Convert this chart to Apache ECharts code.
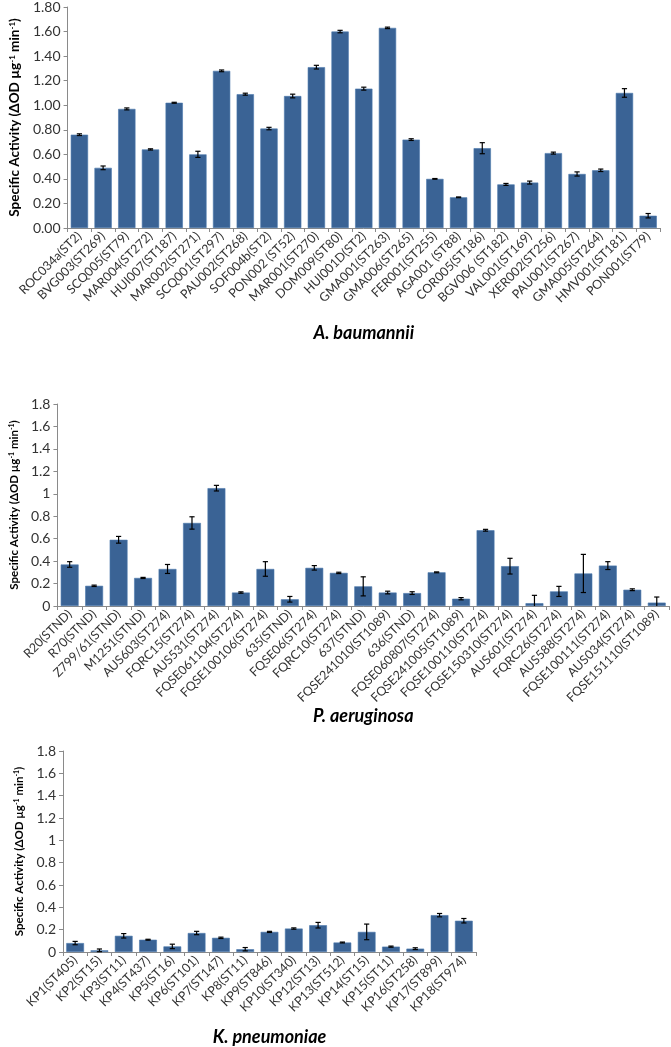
<!DOCTYPE html>
<html>
<head>
<meta charset="utf-8">
<script src="https://cdn.jsdelivr.net/npm/echarts@6/dist/echarts.min.js"></script>
<style>
html,body{margin:0;padding:0;background:#fff;}
#chart{width:671px;height:1047px;}
</style>
</head>
<body>
<div id="chart"></div>
<script>
// ---- Data ----
const abCats = ['ROC034a(ST2)','BVG003(ST269)','SCQ005(ST79)','MAR004(ST272)','HUI007(ST187)','MAR002(ST271)','SCQ001(ST297)','PAU002(ST268)','SOF004b(ST2)','PON002 (ST52)','MAR001(ST270)','DOM009(ST80)','HUI001D(ST2)','GMA001(ST263)','GMA006(ST265)','FER001(ST255)','AGA001 (ST88)','COR005(ST186)','BGV006 (ST182)','VAL001(ST169)','XER002(ST256)','PAU001(ST267)','GMA005(ST264)','HMV001(ST181)','PON001(ST79)'];
const abVals = [0.76,0.49,0.97,0.64,1.02,0.60,1.28,1.09,0.81,1.075,1.31,1.60,1.135,1.63,0.72,0.40,0.25,0.65,0.355,0.37,0.61,0.44,0.47,1.10,0.10];
const abErr  = [0.007,0.015,0.008,0.005,0.004,0.025,0.007,0.008,0.01,0.015,0.015,0.01,0.012,0.006,0.007,0.003,0.003,0.045,0.008,0.012,0.008,0.017,0.01,0.035,0.018];

const paCats = ['R20(STND)','R70(STND)','Z799/61(STND)','M1251(STND)','AUS603(ST274)','FQRC15(ST274)','AUS531(ST274)','FQSE061104(ST274)','FQSE100106(ST274)','635(STND)','FQSE06(ST274)','FQRC10(ST274)','637(STND)','FQSE241010(ST1089)','636(STND)','FQSE060807(ST274)','FQSE241005(ST1089)','FQSE100110(ST274)','FQSE150310(ST274)','AUS601(ST274)','FQRC26(ST274)','AUS588(ST274)','FQSE100111(ST274)','AUS034(ST274)','FQSE151110(ST1089)'];
const paVals = [0.37,0.18,0.59,0.25,0.33,0.74,1.05,0.12,0.33,0.06,0.34,0.295,0.175,0.12,0.115,0.30,0.065,0.675,0.355,0.025,0.13,0.29,0.36,0.145,0.03];
const paErr  = [0.025,0.006,0.03,0.005,0.04,0.055,0.025,0.006,0.065,0.025,0.02,0.006,0.085,0.012,0.012,0.004,0.01,0.008,0.07,0.07,0.045,0.17,0.035,0.008,0.05];

const kpCats = ['KP1(ST405)','KP2(ST15)','KP3(ST11)','KP4(ST437)','KP5(ST16)','KP6(ST101)','KP7(ST147)','KP8(ST11)','KP9(ST846)','KP10(ST340)','KP12(ST13)','KP13(ST512)','KP14(ST15)','KP15(ST11)','KP16(ST258)','KP17(ST899)','KP18(ST974)'];
const kpVals = [0.08,0.015,0.145,0.11,0.05,0.17,0.127,0.025,0.18,0.21,0.24,0.085,0.18,0.048,0.03,0.33,0.28];
const kpErr  = [0.015,0.012,0.02,0.004,0.02,0.015,0.006,0.015,0.005,0.006,0.025,0.004,0.07,0.005,0.008,0.015,0.02];

const titles = ['A. baumannii','P. aeruginosa','K. pneumoniae'];
const yName = 'Specific Activity (ΔOD µg{sup|-1} min{sup|-1})';

// ---- Styling ----
const FONT = 'Lato, "Open Sans", "DejaVu Sans", sans-serif';
const BAR = '#3a6395';
const AXIS = '#8a8a8a';
const TXT = '#333333';

const grids = [
  {left:52, top:7, width:608, height:221},
  {left:57, top:404, width:612, height:202},
  {left:63, top:751, width:413, height:201}
];
const cats = [abCats, paCats, kpCats];
const vals = [abVals, paVals, kpVals];
const errs = [abErr, paErr, kpErr];
const nameGaps = [96, 101, 76];
const yNameGaps = [30, 35, 33];
const yNameSizes = [13.5, 11.5, 11.5];

function errSeries(k) {
  return {
    type: 'custom',
    xAxisIndex: k, yAxisIndex: k,
    z: 10,
    encode: {x: 0, y: 1},
    data: vals[k].map((v, i) => [i, v, errs[k][i]]),
    renderItem: function (params, api) {
      const i = api.value(0), v = api.value(1), e = api.value(2);
      const hi = api.coord([i, v + e]);
      const lo = api.coord([i, Math.max(0, v - e)]);
      const w = 2.6;
      const st = {stroke: '#000', lineWidth: 1.2};
      const ch = [
        {type: 'line', shape: {x1: hi[0], y1: hi[1], x2: lo[0], y2: lo[1]}, style: st},
        {type: 'line', shape: {x1: hi[0] - w, y1: hi[1], x2: hi[0] + w, y2: hi[1]}, style: st}
      ];
      if (v - e > 0) ch.push({type: 'line', shape: {x1: lo[0] - w, y1: lo[1], x2: lo[0] + w, y2: lo[1]}, style: st});
      return {type: 'group', children: ch};
    }
  };
}

const xAxes = [0,1,2].map(k => ({
  type: 'category', gridIndex: k, data: cats[k],
  axisLine: {lineStyle: {color: AXIS, width: 1}},
  axisTick: {show: true, length: 4, lineStyle: {color: AXIS}},
  axisLabel: {rotate: 45, interval: 0, fontSize: 12.5, color: TXT, fontFamily: FONT, margin: 6},
  name: titles[k], nameLocation: 'middle', nameGap: nameGaps[k],
  nameTextStyle: {fontFamily: FONT, fontSize: 18, fontWeight: 'bold', fontStyle: 'italic', color: '#000'}
}));

const yAxes = [0,1,2].map(k => ({
  type: 'value', gridIndex: k, min: 0, max: 1.8, interval: 0.2,
  splitLine: {show: false},
  axisLine: {show: true, lineStyle: {color: AXIS, width: 1}},
  axisTick: {show: true, length: 4, lineStyle: {color: AXIS}},
  axisLabel: {
    fontSize: 14, color: TXT, fontFamily: FONT, margin: 7,
    formatter: k === 0 ? (v => v.toFixed(2)) : (v => String(Math.round(v * 10) / 10))
  },
  name: yName, nameLocation: 'middle', nameRotate: 90, nameGap: yNameGaps[k],
  nameTextStyle: {
    fontFamily: FONT, fontSize: yNameSizes[k], fontWeight: 'bold', color: '#000',
    rich: {sup: {fontFamily: FONT, fontSize: Math.round(yNameSizes[k] * 0.62), fontWeight: 'bold', color: '#000', verticalAlign: 'top', padding: [0, 0, 5, 0]}}
  }
}));

const series = [];
[0,1,2].forEach(k => {
  series.push({
    type: 'bar', xAxisIndex: k, yAxisIndex: k, data: vals[k],
    barCategoryGap: '27%',
    itemStyle: {color: BAR, borderColor: '#4b78ad', borderWidth: 0.6},
    silent: true
  });
  series.push(errSeries(k));
});

const chart = echarts.init(document.getElementById('chart'), null, {renderer: 'canvas'});
chart.setOption({
  animation: false,
  backgroundColor: '#fff',
  textStyle: {fontFamily: FONT},
  grid: grids,
  xAxis: xAxes,
  yAxis: yAxes,
  series: series
});
</script>
</body>
</html>
